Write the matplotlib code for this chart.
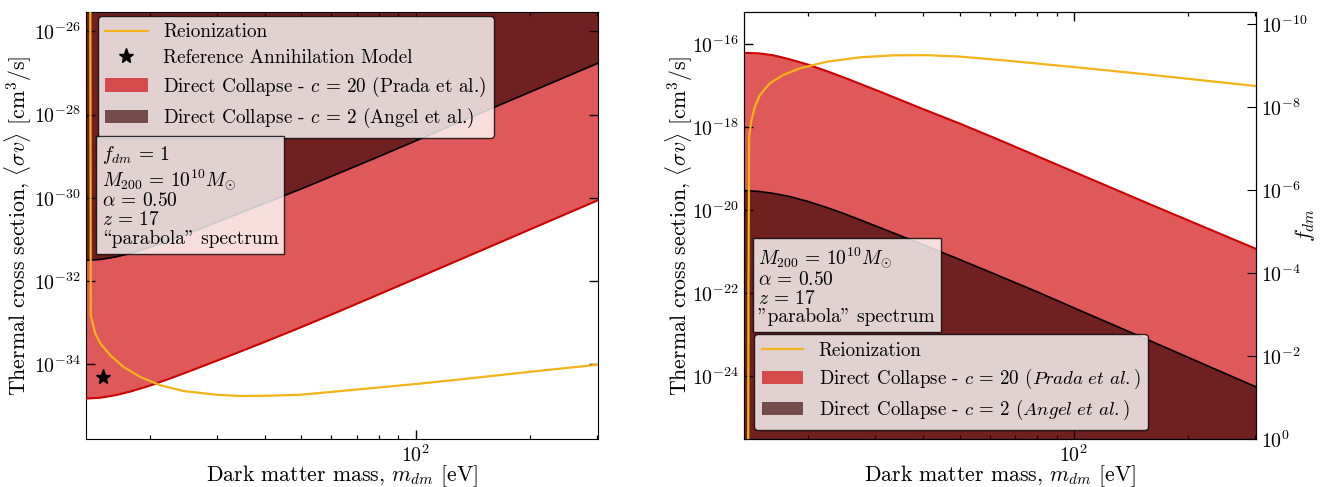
import matplotlib
matplotlib.use("Agg")
import matplotlib.pyplot as plt
from matplotlib.ticker import FixedLocator, NullLocator, LogLocator, LogFormatterSciNotation

plt.rcParams['font.family'] = 'serif'
plt.rcParams['font.serif'] = ['cmr10']
plt.rcParams['mathtext.fontset'] = 'cm'
plt.rcParams['axes.formatter.use_mathtext'] = True
plt.rcParams['axes.unicode_minus'] = False

# ---------------- data: left panel (f_dm = 1) ----------------
mass_reion_L = [13.90, 13.95, 14.32, 14.77, 15.69, 17.00, 18.82, 21.24, 24.45, 29.95,
                34.47, 40.54, 49.6, 67.15, 100.6, 136.2, 203.9, 301.3]
sigma_reion_L = [1e-24, 1.5e-33, 5.6e-34, 3.2e-34, 1.66e-34, 8.7e-35, 5.0e-35, 3.16e-35,
                 2.29e-35, 1.86e-35, 1.74e-35, 1.76e-35, 1.86e-35, 2.40e-35, 3.39e-35,
                 4.52e-35, 6.76e-35, 9.77e-35]

mass_dc_L = [13.56, 14.79, 16.22, 17.78, 19.95, 22.39, 25.12, 31.62, 39.81, 50.12,
             63.10, 79.43, 100.0, 158.5, 301.3]
sigma_c20_L = [1.51e-35, 1.58e-35, 1.82e-35, 2.24e-35, 3.09e-35, 4.47e-35, 6.61e-35,
               1.48e-34, 3.39e-34, 7.94e-34, 1.91e-33, 4.68e-33, 1.15e-32, 7.0e-32, 8.71e-31]
sigma_c2_L = [3.16e-32, 3.31e-32, 3.80e-32, 4.68e-32, 6.46e-32, 9.33e-32, 1.38e-31,
              3.16e-31, 7.24e-31, 1.66e-30, 3.98e-30, 9.55e-30, 2.34e-29, 1.41e-28, 1.70e-27]

star_mass = [15.0]
star_sigma = [5.0e-35]

# ---------------- data: right panel (varying f_dm) ----------------
mass_reion_R = [13.90, 13.92, 13.98, 14.18, 14.47, 14.92, 15.85, 17.18, 19.01, 22.35,
                27.35, 33.46, 40.96, 50.12, 63.88, 100.0, 158.5, 301.3]
sigma_reion_R = [1e-26, 1e-22, 5.81e-19, 1.47e-18, 3.06e-18, 5.85e-18, 1.12e-17, 1.77e-17,
                 2.56e-17, 3.69e-17, 4.71e-17, 5.26e-17, 5.31e-17, 4.90e-17, 4.06e-17,
                 2.75e-17, 1.80e-17, 9.6e-18]

mass_dc_R = [13.56, 14.79, 16.22, 17.78, 19.95, 22.39, 25.12, 31.62, 39.81, 50.12,
             63.10, 79.43, 100.0, 158.5, 301.3]
sigma_c20_R = [6.03e-17, 5.89e-17, 5.25e-17, 4.27e-17, 3.16e-17, 2.19e-17, 1.48e-17,
               6.46e-18, 2.75e-18, 1.20e-18, 5.01e-19, 2.04e-19, 8.32e-20, 1.38e-20, 1.17e-21]
sigma_c2_R = [2.95e-20, 2.82e-20, 2.51e-20, 2.14e-20, 1.62e-20, 1.15e-20, 7.94e-21,
              3.47e-21, 1.51e-21, 6.46e-22, 2.69e-22, 1.12e-22, 4.47e-23, 7.24e-24, 5.62e-25]

x_limits = (13.55, 301.3)
y_limits_L = (10**-35.8, 10**-25.53)
y_limits_R = (10**-25.51, 10**-15.23)
f_limits_R = (1.0, 10**-10.3)
xticks = [100]
yticks_L = [1e-26, 1e-28, 1e-30, 1e-32, 1e-34]
yticks_R = [1e-16, 1e-18, 1e-20, 1e-22, 1e-24]
fticks_R = [1e0, 1e-2, 1e-4, 1e-6, 1e-8, 1e-10]

# ---------------- style ----------------
LIGHT = (0.82, 0.04, 0.05)
DARK = (0.20, 0.0, 0.0)
RED_LINE = '#cc0000'
ORANGE = '#f4b317'
FS_TICK = 14.3
FS_LABEL = 15.7
FS_LEG = 13.8
FS_BOX = 14

fig = plt.figure(figsize=(13.29, 4.87), dpi=100)
axL = fig.add_axes([86/1329, 47.7/487, 511.7/1329, 427.6/487])
axR = fig.add_axes([744/1329, 47.7/487, 512/1329, 427.6/487])


def style_axis(ax, right=True):
    ax.set_xscale('log')
    ax.set_yscale('log')
    ax.set_xlim(*x_limits)
    ax.xaxis.set_major_locator(FixedLocator(xticks))
    ax.xaxis.set_minor_locator(LogLocator(base=10, subs=range(2, 10), numticks=20))
    ax.xaxis.set_minor_formatter(plt.NullFormatter())
    ax.yaxis.set_minor_locator(NullLocator())
    ax.tick_params(which='both', direction='in', top=True, right=right, labelsize=FS_TICK)
    ax.tick_params(which='major', length=6.5, width=1)
    ax.tick_params(which='minor', length=3.2, width=0.9)
    ax.set_xlabel(r'Dark matter mass, $m_{dm}$ [eV]', fontsize=FS_LABEL)
    ax.set_ylabel(r'Thermal cross section, $\langle\sigma v\rangle$ [cm$^3$/s]', fontsize=FS_LABEL)
    ax.xaxis.set_label_coords(0.5, -0.056)


# ---------------- left panel ----------------
style_axis(axL, right=True)
axL.set_ylim(*y_limits_L)
axL.yaxis.set_major_locator(FixedLocator(yticks_L))
axL.yaxis.set_major_formatter(LogFormatterSciNotation())
axL.yaxis.set_label_coords(-0.101, 0.5)

top_L = y_limits_L[1] * 100
f20 = axL.fill_between(mass_dc_L, sigma_c20_L, top_L, color=LIGHT, alpha=0.68, lw=0,
                       label=r'Direct Collapse - $c\,=\,20$ (Prada et al.)', zorder=1)
f2 = axL.fill_between(mass_dc_L, sigma_c2_L, top_L, color=DARK, alpha=0.64, lw=0,
                      label=r'Direct Collapse - $c\,=\,2$ (Angel et al.)', zorder=2)
axL.plot(mass_dc_L, sigma_c20_L, color=RED_LINE, lw=1.5, zorder=3)
axL.plot(mass_dc_L, sigma_c2_L, color='black', lw=1.2, zorder=3)
lr, = axL.plot(mass_reion_L, sigma_reion_L, color=ORANGE, lw=1.6, zorder=4, label='Reionization')
st, = axL.plot(star_mass, star_sigma, ls='none', marker='*', ms=11, color='black', zorder=5,
               label='Reference Annihilation Model')

legL = axL.legend(handles=[lr, st, f20, f2], loc='upper left', fontsize=FS_LEG,
                  bbox_to_anchor=(0.0229, 0.9906), borderaxespad=0, framealpha=0.8,
                  edgecolor='black', handlelength=2.2, labelspacing=0.4)
legL.get_frame().set_linewidth(1.0)

axL.text(0.0303, 0.6904,
         "$f_{dm}\\,=\\,1$\n$M_{200}\\,=\\,10^{10}M_{\\odot}$\n$\\alpha\\,=\\,0.50$\n$z\\,=\\,17$\n\\parabola\" spectrum",
         transform=axL.transAxes, ha='left', va='top', fontsize=FS_BOX, zorder=6, linespacing=1.05,
         bbox=dict(boxstyle='square,pad=0.3', facecolor='white', alpha=0.8, edgecolor='black'))

# ---------------- right panel ----------------
style_axis(axR, right=False)
axR.set_ylim(*y_limits_R)
axR.yaxis.set_major_locator(FixedLocator(yticks_R))
axR.yaxis.set_major_formatter(LogFormatterSciNotation())
axR.yaxis.set_label_coords(-0.095, 0.5)

bot_R = y_limits_R[0] / 100
g20 = axR.fill_between(mass_dc_R, bot_R, sigma_c20_R, color=LIGHT, alpha=0.68, lw=0,
                       label=r'Direct Collapse - $c\,=\,20$ ($Prada\ et\ al.$)', zorder=1)
g2 = axR.fill_between(mass_dc_R, bot_R, sigma_c2_R, color=DARK, alpha=0.64, lw=0,
                      label=r'Direct Collapse - $c\,=\,2$ ($Angel\ et\ al.$)', zorder=2)
axR.plot(mass_dc_R, sigma_c20_R, color=RED_LINE, lw=1.5, zorder=3)
axR.plot(mass_dc_R, sigma_c2_R, color='black', lw=1.2, zorder=3)
lr2, = axR.plot(mass_reion_R, sigma_reion_R, color=ORANGE, lw=1.6, zorder=4, label='Reionization')

legR = axR.legend(handles=[lr2, g20, g2], loc='lower left', fontsize=FS_LEG - 0.2,
                  bbox_to_anchor=(0.0201, 0.0217), borderaxespad=0, framealpha=0.8,
                  edgecolor='black', handlelength=2.2, labelspacing=0.38)
legR.get_frame().set_linewidth(1.0)

axR.text(0.0283, 0.4525,
         "$M_{200}\\,=\\,10^{10}M_{\\odot}$\n$\\alpha\\,=\\,0.50$\n$z\\,=\\,17$\n\"parabola\" spectrum",
         transform=axR.transAxes, ha='left', va='top', fontsize=FS_BOX, zorder=6, linespacing=1.05,
         bbox=dict(boxstyle='square,pad=0.3', facecolor='white', alpha=0.8, edgecolor='black'))

ax2 = axR.twinx()
ax2.set_yscale('log')
ax2.set_ylim(*f_limits_R)
ax2.yaxis.set_major_locator(FixedLocator(fticks_R))
ax2.yaxis.set_minor_locator(NullLocator())
ax2.yaxis.set_major_formatter(LogFormatterSciNotation())
ax2.tick_params(which='both', direction='in', labelsize=FS_TICK, length=6.5)
ax2.set_ylabel(r'$f_{dm}$', fontsize=FS_LABEL)
ax2.yaxis.set_label_coords(1.072, 0.5)

fig.savefig('out.png', dpi=100)
